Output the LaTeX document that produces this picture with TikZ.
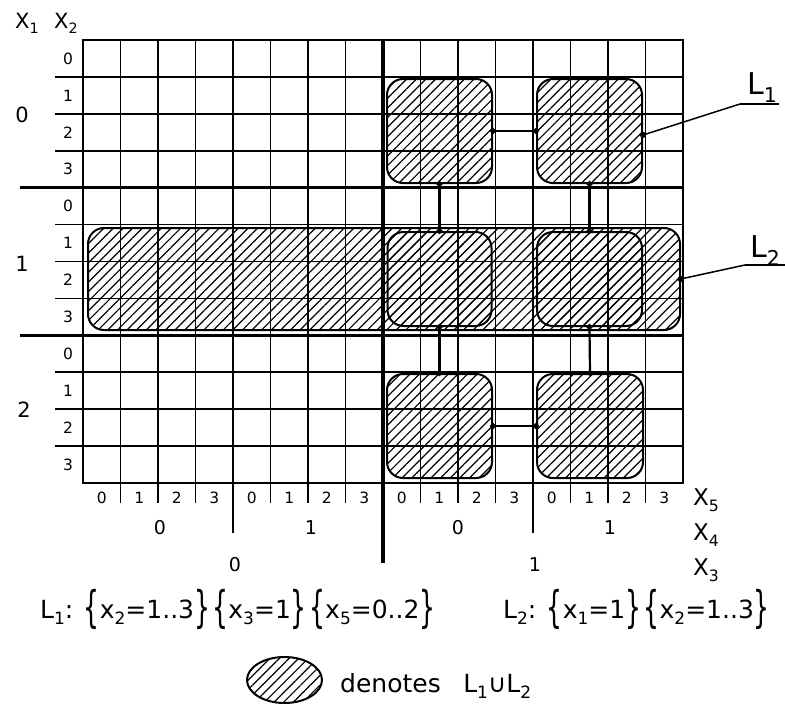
\documentclass[tikz,border=0pt]{standalone}
\usepackage{fontspec}
\usepackage{graphicx}
\setmainfont{DejaVu Sans}
\usetikzlibrary{patterns.meta,arrows.meta,shapes.geometric}
\newcommand\mysub[1]{\raisebox{-0.27em}{\scalebox{0.68}{#1}}}
\newcommand\mybr[1]{\raisebox{-0.17em}{\scalebox{1}[1.75]{\{}}#1\raisebox{-0.17em}{\scalebox{1}[1.75]{\}}}}
\begin{document}
\begin{tikzpicture}[x=1pt,y=-1pt]
\tikzset{
  gthin/.style={line width=1.6pt},
  gmid/.style={line width=2.6pt},
  gthick/.style={line width=4.4pt},
  ghsep/.style={line width=2.8pt},
  hatchfill/.style={pattern={Lines[angle=45,distance=6.8pt,line width=1.2pt]}},
  hatchbox/.style={draw, line width=2pt, rounded corners=16pt, inner sep=0pt, hatchfill},
  conn/.style={line width=2.2pt, {Circle[length=6pt]}-{Circle[length=6pt]}, shorten <=-3pt, shorten >=-3pt},
  lead/.style={line width=1.5pt, -{Circle[length=6pt]}, shorten >=-3pt},
  ulin/.style={line width=1.5pt},
  dig/.style={font=\fontsize{15.5}{15.5}\selectfont, inner sep=0pt},
  bigdig/.style={font=\fontsize{21}{21}\selectfont, inner sep=0pt},
  middig/.style={font=\fontsize{19}{19}\selectfont, inner sep=0pt},
  axlbl/.style={font=\fontsize{23}{23}\selectfont, inner sep=0pt, anchor=base west},
  hdlbl/.style={font=\fontsize{21}{21}\selectfont, inner sep=0pt, anchor=base west},
  formula/.style={font=\fontsize{25}{25}\selectfont, inner sep=0pt, anchor=base west},
  setlbl/.style={font=\fontsize{30}{30}\selectfont, inner sep=0pt, anchor=base west},
}
\useasboundingbox (0,0) rectangle (785,707);

% hatched regions
\node[hatchbox, minimum width=592pt, minimum height=102pt] (L2box) at (384,279) {};
\node[hatchbox, minimum width=105pt, minimum height=104pt] (b00) at (439.5,131) {};
\node[hatchbox, minimum width=105pt, minimum height=104pt] (b01) at (589.5,131) {};
\node[hatchbox, minimum width=104pt, minimum height=94pt] (b10) at (439.5,279) {};
\node[hatchbox, minimum width=105pt, minimum height=94pt] (b11) at (589.5,279) {};
\node[hatchbox, minimum width=105pt, minimum height=104pt] (b20) at (439.5,426) {};
\node[hatchbox, minimum width=106pt, minimum height=104pt] (b21) at (590,426) {};

% grid
\foreach \i in {1,2,3,5,6,7,9,10,11,13,14,15}
  \draw[gthin] ({83+37.5*\i},40) -- ({83+37.5*\i},503);
\foreach \j in {1,2,3,5,6,7,9,10,11}
  \draw[gthin] (55,{40+36.917*\j}) -- (683,{40+36.917*\j});
\draw[gthin] (83,40) rectangle (683,483);
\draw[gmid] (233,40) -- (233,533);
\draw[gmid] (533,40) -- (533,533);
\draw[gthick] (383,40) -- (383,563);
\draw[ghsep] (20,187.7) -- (683,187.7);
\draw[ghsep] (20,335.3) -- (683,335.3);

% connectors between L1 blocks
\draw[conn] (b00.east) -- (b01.west);
\draw[conn] (b00.south) -- (b10.north);
\draw[conn] (b01.south) -- (b11.north);
\draw[conn] (b10.south) -- (b20.north);
\draw[conn] (b11.south) -- (b21.north);
\draw[conn] (b20.east) -- (b21.west);

% header labels
\node[hdlbl] (hx1) at (15,28) {X\mysub{1}};
\node[hdlbl] (hx2) at (54,28) {X\mysub{2}};

% row labels x2
\foreach \j in {0,...,11}{
  \pgfmathtruncatemacro\d{mod(\j,4)}
  \node[dig] (r\j) at (68,{40+36.917*(\j+0.5)}) {\d};
}
% x1 labels
\node[bigdig] (x1a) at (22,115) {0};
\node[bigdig] (x1b) at (22,264) {1};
\node[bigdig] (x1c) at (24,410) {2};

% column labels x5
\foreach \i in {0,...,15}{
  \pgfmathtruncatemacro\d{mod(\i,4)}
  \node[dig] (c\i) at ({83+37.5*(\i+0.5)},498) {\d};
}
% x4 labels
\node[middig] (x4a) at (160,528) {0};
\node[middig] (x4b) at (311,528) {1};
\node[middig] (x4c) at (458,528) {0};
\node[middig] (x4d) at (610,528) {1};
% x3 labels
\node[middig] (x3a) at (235,565) {0};
\node[middig] (x3b) at (535,565) {1};

% axis names
\node[axlbl] (ax5) at (693,505) {X\mysub{5}};
\node[axlbl] (ax4) at (693,540) {X\mysub{4}};
\node[axlbl] (ax3) at (693,575) {X\mysub{3}};

% set labels with leaders
\node[setlbl] (lab1) at (747,94) {L\mysub{1}};
\coordinate (u1a) at (740,104);
\coordinate (u1b) at (779,104);
\draw[ulin] (u1b) -- (u1a);
\draw[lead] (u1a) -- ([yshift=-4pt]b01.east);
\node[setlbl] (lab2) at (750,257) {L\mysub{2}};
\coordinate (u2a) at (745,265);
\coordinate (u2b) at (785,265);
\draw[ulin] (u2b) -- (u2a);
\draw[lead] (u2a) -- (L2box.east);

% formulas
\node[formula] (f1) at (40,618) {L\mysub{1}: \mybr{x\mysub{2}=1..3}\hspace{0.1em}\mybr{x\mysub{3}=1}\hspace{0.1em}\mybr{x\mysub{5}=0..2}};
\node[formula] (f2) at (503,618) {L\mysub{2}: \mybr{x\mysub{1}=1}\hspace{0.1em}\mybr{x\mysub{2}=1..3}};

% legend
\node[ellipse, draw, line width=2pt, inner sep=0pt, minimum width=75pt, minimum height=46pt, hatchfill] (leg) at (284.5,680) {};
\node[formula] (legt) at (340,692) {denotes\hspace{0.9em}L\mysub{1}∪L\mysub{2}};
\end{tikzpicture}
\end{document}
